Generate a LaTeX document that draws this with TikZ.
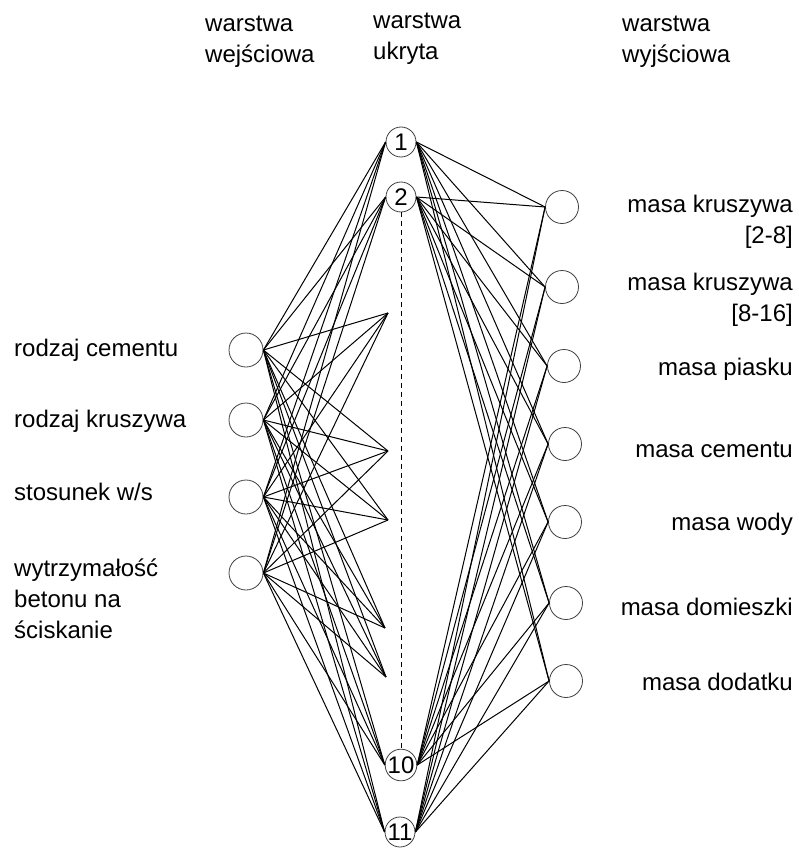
\documentclass[tikz,border=0pt]{standalone}
\usepackage{fontspec}
\setmainfont{Liberation Sans}

\tikzset{
  neuron/.style={draw=black!75, line width=0.8pt, circle, fill=white, inner sep=0pt, minimum size=#1},
  polaczenie/.style={line width=1pt, black},
  opis/.style={font=\fontsize{24}{31}\selectfont, inner sep=0pt}
}

\begin{document}
\begin{tikzpicture}[x=1pt, y=-1pt]
    \useasboundingbox (0,0) rectangle (798,848);

    % naglowki warstw
    \node[opis, anchor=base west] (nwe) at (205,32) {\begin{tabular}[t]{@{}l@{}}warstwa\\wejściowa\end{tabular}};
    \node[opis, anchor=base west] (nuk) at (373,29) {\begin{tabular}[t]{@{}l@{}}warstwa\\ukryta\end{tabular}};
    \node[opis, anchor=base west] (nwy) at (622,32) {\begin{tabular}[t]{@{}l@{}}warstwa\\wyjściowa\end{tabular}};

    % warstwa wejsciowa
    \node[neuron=34pt] (we1) at (246,350) {};
    \node[neuron=34pt] (we2) at (246,420) {};
    \node[neuron=34pt] (we3) at (246,497) {};
    \node[neuron=34pt] (we4) at (246,573) {};

    % warstwa ukryta
    \node[neuron=30pt, opis] (u1) at (401,142) {1};
    \node[neuron=30pt, opis] (u2) at (401,197) {2};
    \node[neuron=30pt, opis] (u10) at (401,765) {10};
    \node[neuron=30pt, opis] (u11) at (400,832) {11};
    \coordinate (p3) at (388,313);
    \coordinate (p4) at (388,451);
    \coordinate (p5) at (388,520);
    \coordinate (p6) at (385,628);
    \coordinate (p7) at (386,677);

    % warstwa wyjsciowa
    \node[neuron=33pt] (wy1) at (562,207) {};
    \node[neuron=33pt] (wy2) at (562,287) {};
    \node[neuron=33pt] (wy3) at (564,366) {};
    \node[neuron=33pt] (wy4) at (565,444) {};
    \node[neuron=33pt] (wy5) at (565,522) {};
    \node[neuron=33pt] (wy6) at (566,603) {};
    \node[neuron=33pt] (wy7) at (566,681) {};

    % polaczenia
    \foreach \i in {1,...,4}
      \foreach \h in {u1.west,u2.west,p3,p4,p5,p6,p7,u10.west,u11.west}
        \draw[polaczenie] (we\i.east) -- (\h);
    \foreach \h in {u1,u2,u10,u11}
      \foreach \o in {1,...,7}
        \draw[polaczenie] (\h.east) -- (wy\o.west);
    \draw[line width=0.9pt, dash pattern=on 5pt off 4pt] (u2.south) -- (u10.north);

    % opisy wejsc
    \node[opis, anchor=base west] (o1) at (14,356) {rodzaj cementu};
    \node[opis, anchor=base west] (o2) at (14,427) {rodzaj kruszywa};
    \node[opis, anchor=base west] (o3) at (14,500) {stosunek w/s};
    \node[opis, anchor=base west] (o4) at (14,576) {\begin{tabular}[t]{@{}l@{}}wytrzymałość\\betonu na\\ściskanie\end{tabular}};

    % opisy wyjsc
    \node[opis, anchor=base east] (r1) at (793,212) {\begin{tabular}[t]{@{}r@{}}masa kruszywa\\{[2-8]}\end{tabular}};
    \node[opis, anchor=base east] (r2) at (793,290) {\begin{tabular}[t]{@{}r@{}}masa kruszywa\\{[8-16]}\end{tabular}};
    \node[opis, anchor=base east] (r3) at (793,375) {masa piasku};
    \node[opis, anchor=base east] (r4) at (793,457) {masa cementu};
    \node[opis, anchor=base east] (r5) at (793,530) {masa wody};
    \node[opis, anchor=base east] (r6) at (793,615) {masa domieszki};
    \node[opis, anchor=base east] (r7) at (793,690) {masa dodatku};
\end{tikzpicture}
\end{document}
